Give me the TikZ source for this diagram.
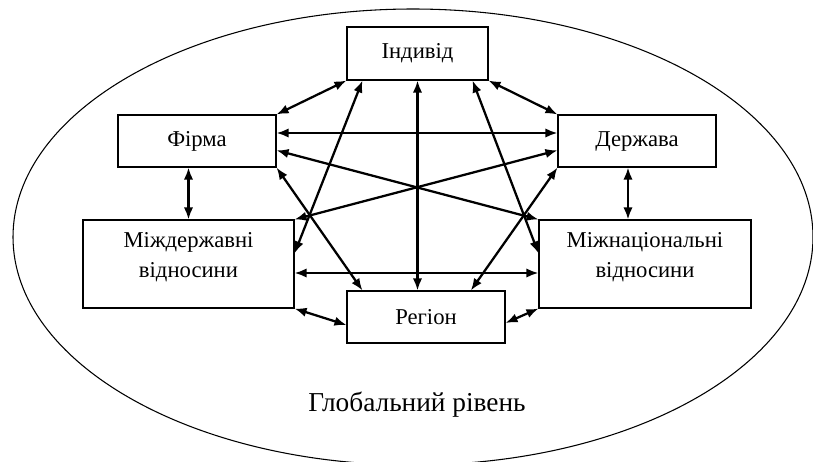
\documentclass[tikz,border=0pt]{standalone}
\usepackage{fontspec}
\setmainfont{Liberation Serif}
\newfontfamily\ukserif{Liberation Serif}
\usetikzlibrary{arrows.meta}
\begin{document}
\begin{tikzpicture}[>={Latex[length=9pt,width=7pt]},x=0.75pt,y=-0.75pt,
    box/.style={draw,line width=0.8pt,inner sep=0pt,align=center,
      font={\ukserif\fontsize{17pt}{22.5pt}\selectfont}},
    wide/.style={box,text height=42.75pt,text depth=23.25pt},
    link/.style={<->,line width=1.7pt}]
      \useasboundingbox (0,0) rectangle (813,461);
      \draw[line width=0.8pt] (413,237) ellipse [x radius=300pt,y radius=171pt];

      \node[box,minimum width=105.75pt,minimum height=39.75pt] (indyvid) at (417.5,53.5) {Індивід};
      \node[box,minimum width=118.5pt,minimum height=39pt] (firma) at (197,141) {Фірма};
      \node[box,minimum width=118.5pt,minimum height=39pt] (derzhava) at (637,141) {Держава};
      \node[wide,minimum width=158.25pt] (mizhderzh) at (188.5,264) {Міждержавні\\відносини};
      \node[wide,minimum width=159pt] (mizhnats) at (645,264) {Міжнаціональні\\відносини};
      \node[box,minimum width=118.5pt,minimum height=39pt] (region) at (426,317) {Регіон};
      \node[font={\ukserif\fontsize{20.5pt}{24pt}\selectfont},anchor=base] (riven) at (417,411.7) {Глобальний рівень};

      \draw[link] (indyvid.south west) -- (firma.north east);
      \draw[link] (indyvid.south east) -- (derzhava.north west);
      \draw[link] ([xshift=12pt]indyvid.south west) -- ([yshift=8pt]mizhderzh.east);
      \draw[link] ([xshift=-12pt]indyvid.south east) -- ([yshift=8pt]mizhnats.west);
      \draw[link] (indyvid.south) -- (indyvid.south |- region.north);
      \draw[link] ([yshift=6pt]firma.east) -- ([yshift=6pt]derzhava.west);
      \draw[link] ([yshift=-7pt]firma.east) -- (mizhnats.north west);
      \draw[link] ([yshift=-7pt]derzhava.west) -- (mizhderzh.north east);
      \draw[link] (firma.south east) -- ([xshift=12pt]region.north west);
      \draw[link] (derzhava.south west) -- ([xshift=-26pt]region.north east);
      \draw[link] (firma.south -| mizhderzh.north) -- (mizhderzh.north);
      \draw[link] ([xshift=-6.75pt]derzhava.south) -- ([xshift=-6.75pt]derzhava.south |- mizhnats.north);
      \draw[link] ([yshift=-6.75pt]mizhderzh.east) -- ([yshift=-6.75pt]mizhnats.west);
      \draw[link] (mizhderzh.south east) -- ([yshift=-6pt]region.west);
      \draw[link] (mizhnats.south west) -- ([yshift=-4.5pt]region.east);
    \end{tikzpicture}
\end{document}
